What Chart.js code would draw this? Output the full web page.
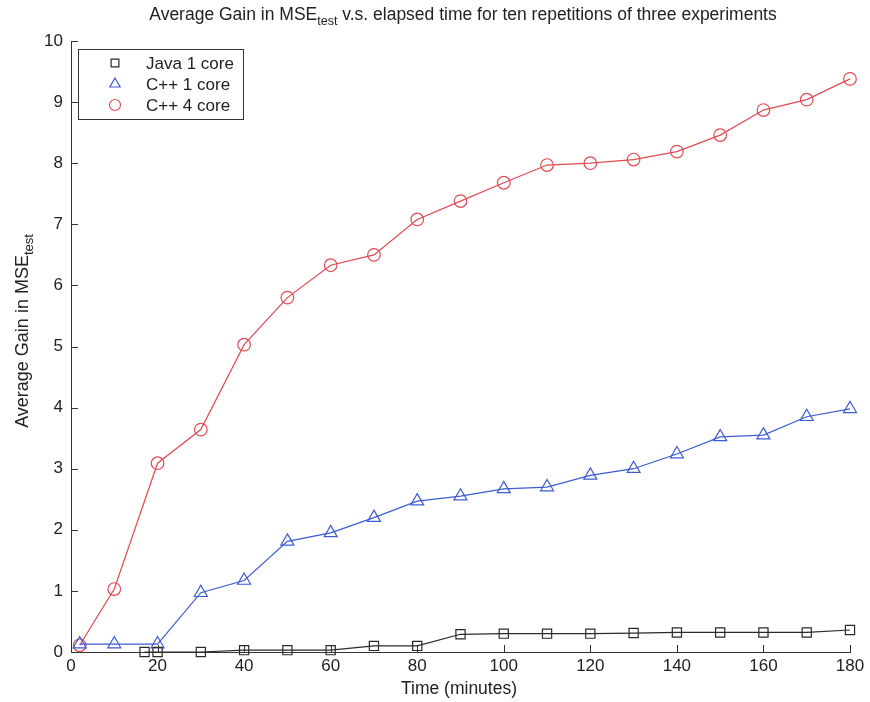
<!DOCTYPE html>
<html>
<head>
<meta charset="utf-8">
<script src="https://cdn.jsdelivr.net/npm/chart.js@4.4.0/dist/chart.umd.min.js"></script>
<style>
html,body{margin:0;padding:0;background:#fff;}
#wrap{width:870px;height:702px;}
</style>
</head>
<body>
<div id="wrap"><canvas id="c" width="870" height="702"></canvas></div>
<script>
// ---- data ----
const seriesNames = ['Java 1 core', 'C++ 1 core', 'C++ 4 core'];
const javaTime = [17, 20, 30, 40, 50, 60, 70, 80, 90, 100, 110, 120, 130, 140, 150, 160, 170, 180];
const javaGain = [0, 0, 0, 0.03, 0.03, 0.03, 0.10, 0.10, 0.29, 0.30, 0.30, 0.30, 0.31, 0.32, 0.32, 0.32, 0.32, 0.36];
const cppTime = [2, 10, 20, 30, 40, 50, 60, 70, 80, 90, 100, 110, 120, 130, 140, 150, 160, 170, 180];
const cpp1Gain = [0.13, 0.13, 0.13, 0.97, 1.17, 1.81, 1.95, 2.20, 2.47, 2.55, 2.67, 2.70, 2.89, 3.00, 3.24, 3.52, 3.55, 3.85, 3.98];
const cpp4Gain = [0.11, 1.03, 3.09, 3.64, 5.03, 5.80, 6.33, 6.50, 7.08, 7.38, 7.68, 7.97, 8.00, 8.06, 8.19, 8.46, 8.87, 9.04, 9.38];
const xTicks = [0, 20, 40, 60, 80, 100, 120, 140, 160, 180];
const yTicks = [0, 1, 2, 3, 4, 5, 6, 7, 8, 9, 10];
const titleMain = 'Average Gain in MSE';
const titleSub = 'test';
const titleRest = ' v.s. elapsed time for ten repetitions of three experiments';
const yTitleMain = 'Average Gain in MSE';
const yTitleSub = 'test';
const xTitle = 'Time (minutes)';

const FONT = '"Liberation Sans", Arial, Helvetica, sans-serif';
const TXT = '#222';
const RED = '#e04a52';
const BLUE = '#3d5cd0';
const BLACK = '#2a2a2a';

function pts(xs, ys) { return xs.map((x, i) => ({x: x, y: ys[i]})); }

const styles = [
  {color: BLACK, style: 'rect', r: 6.5},
  {color: BLUE, style: 'triangle', r: 7.5},
  {color: RED, style: 'circle', r: 6.3}
];
const dataSets = [pts(javaTime, javaGain), pts(cppTime, cpp1Gain), pts(cppTime, cpp4Gain)];

function drawMarker(ctx, style, x, y, r, color) {
  ctx.save();
  ctx.strokeStyle = color;
  ctx.lineWidth = 1.2;
  ctx.beginPath();
  if (style === 'rect') {
    const s = Math.SQRT1_2 * r;
    ctx.rect(x - s, y - s, 2 * s, 2 * s);
  } else if (style === 'triangle') {
    ctx.moveTo(x, y - r);
    ctx.lineTo(x + r * Math.cos(Math.PI / 6), y + r * 0.5);
    ctx.lineTo(x - r * Math.cos(Math.PI / 6), y + r * 0.5);
    ctx.closePath();
  } else {
    ctx.arc(x, y, r, 0, Math.PI * 2);
  }
  ctx.stroke();
  ctx.restore();
}

const decor = {
  id: 'decor',
  afterDraw(chart) {
    const ctx = chart.ctx;
    const xs = chart.scales.x, ys = chart.scales.y;
    const a = chart.chartArea;
    ctx.save();
    // inward ticks
    ctx.strokeStyle = '#333';
    ctx.lineWidth = 1;
    ctx.beginPath();
    yTicks.forEach(v => {
      const py = Math.round(ys.getPixelForValue(v)) + 0.5;
      ctx.moveTo(a.left, py); ctx.lineTo(a.left + 7, py);
    });
    xTicks.forEach(v => {
      const px = Math.round(xs.getPixelForValue(v)) + 0.5;
      ctx.moveTo(px, a.bottom); ctx.lineTo(px, a.bottom - 7);
    });
    ctx.stroke();

    // title with subscript
    ctx.fillStyle = TXT;
    ctx.textBaseline = 'alphabetic';
    ctx.textAlign = 'left';
    const f1 = '17.5px ' + FONT, f2 = '12.5px ' + FONT;
    ctx.font = f1; const w1 = ctx.measureText(titleMain).width; const w3 = ctx.measureText(titleRest).width;
    ctx.font = f2; const w2 = ctx.measureText(titleSub).width;
    let tx = 463 - (w1 + w2 + w3) / 2;
    const ty = 20;
    ctx.font = f1; ctx.fillText(titleMain, tx, ty); tx += w1;
    ctx.font = f2; ctx.fillText(titleSub, tx, ty + 5); tx += w2;
    ctx.font = f1; ctx.fillText(titleRest, tx, ty);

    // y title (rotated)
    ctx.save();
    ctx.translate(28, 331);
    ctx.rotate(-Math.PI / 2);
    const fy1 = '18px ' + FONT, fy2 = '13px ' + FONT;
    ctx.font = fy1; const yw1 = ctx.measureText(yTitleMain).width;
    ctx.font = fy2; const yw2 = ctx.measureText(yTitleSub).width;
    let yx = -(yw1 + yw2) / 2;
    ctx.font = fy1; ctx.fillText(yTitleMain, yx, 0); yx += yw1;
    ctx.font = fy2; ctx.fillText(yTitleSub, yx, 5);
    ctx.restore();

    // x title
    ctx.font = f1;
    ctx.textAlign = 'center';
    ctx.fillText(xTitle, 459, 694);

    // legend box
    ctx.fillStyle = '#fff';
    ctx.fillRect(78.5, 49.5, 165, 70);
    ctx.strokeStyle = '#333';
    ctx.lineWidth = 1;
    ctx.strokeRect(78.5, 49.5, 165, 70);
    ctx.textAlign = 'left';
    ctx.textBaseline = 'middle';
    ctx.font = '17px ' + FONT;
    ctx.fillStyle = TXT;
    const rowsY = [63, 84, 105];
    seriesNames.forEach((n, i) => {
      const st = styles[i];
      drawMarker(ctx, st.style, 115, rowsY[i], st.style === 'triangle' ? 6 : 5.5, st.color);
      ctx.fillText(n, 146, rowsY[i] + 1);
    });
    ctx.restore();
  }
};

const chart = new Chart(document.getElementById('c'), {
  type: 'line',
  data: {
    datasets: dataSets.map((d, i) => ({
      label: seriesNames[i],
      data: d,
      borderColor: styles[i].color,
      borderWidth: 1.2,
      pointStyle: styles[i].style,
      pointRadius: styles[i].r,
      pointBorderColor: styles[i].color,
      pointBorderWidth: 1.2,
      pointBackgroundColor: 'rgba(0,0,0,0)',
      fill: false,
      tension: 0,
      clip: false
    }))
  },
  options: {
    responsive: false,
    animation: false,
    events: [],
    layout: {padding: {top: 41, right: 20, left: 0, bottom: 0}},
    plugins: {legend: {display: false}, title: {display: false}, tooltip: {enabled: false}},
    scales: {
      x: {
        type: 'linear', min: 0, max: 180,
        afterFit(s) { s.height = 50; },
        afterBuildTicks(s) { s.ticks = xTicks.map(v => ({value: v})); },
        grid: {display: false, drawTicks: false},
        border: {display: true, color: '#333', width: 1},
        ticks: {color: TXT, font: {family: FONT, size: 17}, padding: 4, maxRotation: 0}
      },
      y: {
        type: 'linear', min: 0, max: 10,
        afterFit(s) { s.width = 71; },
        afterBuildTicks(s) { s.ticks = yTicks.map(v => ({value: v})); },
        grid: {display: false, drawTicks: false},
        border: {display: true, color: '#333', width: 1},
        ticks: {color: TXT, font: {family: FONT, size: 17}, padding: 8}
      }
    }
  },
  plugins: [decor]
});
</script>
</body>
</html>
